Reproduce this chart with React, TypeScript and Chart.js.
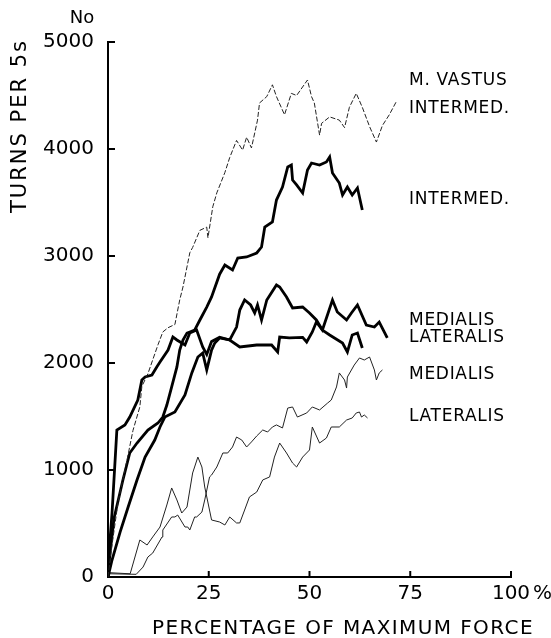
import React, { useEffect, useRef } from "react";
import { Chart, registerables } from "chart.js";

Chart.register(...registerables);

// ---- axis ticks ----
const X_TICKS = [0, 25, 50, 75, 100];
const X_TICK_LABELS = ["0", "25", "50", "75", "100"];
const Y_TICKS = [0, 1000, 2000, 3000, 4000, 5000];
const Y_TICK_LABELS = ["0", "1000", "2000", "3000", "4000", "5000"];

// ---- series: [percentage of max force, turns per 5 s] ----
const vastusIntermedThin: [number, number][] = [
  [0, 0], [1, 300], [2.5, 700], [4.7, 1090], [6.2, 1370], [7.9, 1590], [8.4, 1780], [9.9, 1900],
  [12.4, 2170], [13.6, 2290], [14.9, 2330], [16.6, 2360], [17.8, 2590], [18.6, 2710], [20.3, 3030],
  [21.0, 3080], [22.8, 3240], [24.5, 3270], [24.8, 3170], [26.0, 3460], [27.0, 3590], [29.0, 3780],
  [30.2, 3920], [31.9, 4080], [33.4, 3990], [34.4, 4110], [35.6, 4010], [37.1, 4270], [37.6, 4430],
  [39.4, 4490], [40.8, 4600], [41.8, 4490], [43.8, 4320], [45.5, 4520], [46.8, 4500], [49.5, 4645],
  [50.5, 4490], [51.2, 4430], [52.5, 4130], [53.0, 4240], [55.0, 4300], [57.4, 4270], [58.7, 4200],
  [59.9, 4390], [61.6, 4520], [63.1, 4390], [64.9, 4210], [66.6, 4065], [68.1, 4220], [69.8, 4320],
  [71.5, 4440],
];

const intermedThick: [number, number][] = [
  [0, 0], [0.5, 224], [1.5, 550], [3.7, 907], [5.4, 1159], [7.2, 1252], [9.9, 1374], [12.4, 1439],
  [13.6, 1495], [14.6, 1607], [15.8, 1776], [17.1, 1963], [17.8, 2121], [18.6, 2215], [19.6, 2280],
  [20.3, 2290], [21.5, 2308], [22.8, 2402], [24.5, 2523], [25.7, 2617], [27.7, 2830], [29.0, 2916],
  [30.9, 2869], [32.2, 2981], [34.4, 2991], [36.9, 3028], [38.1, 3084], [38.9, 3271], [40.8, 3318],
  [41.8, 3523], [43.3, 3645], [44.6, 3832], [45.5, 3850], [45.8, 3710], [46.8, 3664], [48.3, 3589],
  [49.5, 3804], [50.5, 3869], [52.5, 3850], [54.2, 3879], [55.0, 3925], [55.7, 3776], [57.4, 3682],
  [58.2, 3570], [59.4, 3645], [60.6, 3570], [61.9, 3636], [63.1, 3430],
];

const medialisThick: [number, number][] = [
  [0, 0], [0.3, 250], [1.0, 598], [2.2, 1374], [4.2, 1421], [5.4, 1495], [7.4, 1654], [8.4, 1841],
  [9.2, 1869], [10.9, 1888], [12.1, 1963], [12.9, 2009], [14.9, 2121], [16.1, 2243], [17.1, 2215],
  [19.1, 2168], [20.3, 2280], [22.0, 2308], [23.5, 2150], [24.5, 2080], [25.7, 2200], [27.7, 2240],
  [30.2, 2215], [32.7, 2150], [36.9, 2168], [40.6, 2168], [42.1, 2103], [42.6, 2243], [45.0, 2234],
  [48.3, 2240], [49.3, 2196], [50.7, 2290], [51.7, 2383], [53.2, 2308], [55.7, 2589], [56.9, 2477],
  [59.2, 2402], [60.4, 2467], [61.9, 2542], [64.1, 2355], [66.1, 2336], [67.3, 2383], [69.3, 2234],
];

const lateralisThick: [number, number][] = [
  [0, 0], [1.0, 159], [3.0, 420], [5.0, 654], [7.2, 907], [9.2, 1121], [11.6, 1280], [12.9, 1402],
  [14.1, 1495], [16.6, 1542], [19.1, 1701], [20.8, 1907], [22.3, 2056], [23.5, 2093], [24.5, 1935],
  [25.7, 2121], [26.5, 2187], [27.7, 2234], [30.2, 2215], [31.9, 2336], [32.7, 2495], [33.9, 2589],
  [35.4, 2542], [36.4, 2467], [37.1, 2542], [38.1, 2402], [39.4, 2589], [41.8, 2729], [42.6, 2710],
  [44.3, 2617], [45.8, 2514], [48.3, 2523], [50.0, 2467], [51.7, 2402], [53.2, 2308], [55.0, 2262],
  [58.2, 2187], [59.4, 2103], [60.6, 2262], [61.9, 2280], [63.1, 2140],
];

const medialisThin: [number, number][] = [
  [0, 0], [0.5, 30], [7, 25], [8.7, 93], [9.9, 187], [11.1, 224], [13.4, 374], [13.6, 439],
  [15.8, 561], [16.6, 561], [17.3, 579], [19.1, 467], [19.8, 467], [20.3, 439], [21.5, 561],
  [22.0, 561], [23.3, 607], [24.0, 720], [25.2, 935], [25.7, 953], [27.0, 1028], [28.5, 1159],
  [29.7, 1159], [30.9, 1215], [31.9, 1308], [33.2, 1280], [34.4, 1215], [35.6, 1262], [36.9, 1318],
  [38.4, 1374], [39.6, 1355], [40.8, 1402], [41.8, 1421], [43.3, 1393], [44.6, 1579], [45.8, 1589],
  [47.0, 1495], [49.3, 1533], [50.7, 1589], [52.5, 1561], [54.5, 1626], [55.4, 1654], [56.7, 1776],
  [57.4, 1907], [58.7, 1841], [59.2, 1766], [59.4, 1869], [61.1, 1981], [62.4, 2047], [63.6, 2028],
  [64.9, 2056], [66.1, 1935], [66.6, 1841], [67.3, 1907], [68.1, 1935],
];

const lateralisThin: [number, number][] = [
  [0, 0], [0.5, 40], [5.5, 30], [7.9, 346], [9.7, 299], [11.1, 374], [12.9, 467], [14.6, 673],
  [15.8, 832], [17.1, 720], [18.3, 598], [19.6, 654], [21.0, 972], [22.3, 1121], [23.3, 1028],
  [24.0, 841], [25.7, 533], [27.7, 514], [29.0, 486], [30.2, 561], [31.9, 505], [32.7, 505],
  [33.9, 626], [35.1, 748], [36.9, 794], [38.4, 907], [40.1, 935], [41.3, 1121], [42.6, 1252],
  [44.3, 1159], [45.8, 1065], [46.8, 1028], [48.3, 1121], [50.0, 1187], [50.7, 1402], [52.5, 1252],
  [54.2, 1299], [55.4, 1402], [57.4, 1402], [59.2, 1467], [60.6, 1486], [61.6, 1533], [62.4, 1542],
  [62.9, 1495], [63.6, 1514], [64.4, 1486],
];

// ---- curve labels (text, anchor in data units) ----
const LABEL_TEXTS = ["M. VASTUS", "INTERMED.", "INTERMED.", "MEDIALIS", "LATERALIS", "MEDIALIS", "LATERALIS"];
const LABEL_PCT = [74.7, 74.7, 74.7, 74.7, 74.7, 74.7, 74.7];
const LABEL_TURNS = [4636, 4374, 3523, 2393, 2234, 1888, 1495];

const FONT = '"DejaVu Sans", sans-serif';

const toPts = (arr: [number, number][]) => arr.map(([x, y]) => ({ x, y }));

const decorations = {
  id: "decorations",
  afterDraw(chart: any) {
    const { ctx } = chart;
    const xs = chart.scales.x;
    const ys = chart.scales.y;
    const area = chart.chartArea;
    ctx.save();
    ctx.strokeStyle = "#000";
    ctx.fillStyle = "#000";
    ctx.lineWidth = 2;
    // inward y ticks
    Y_TICKS.forEach((v) => {
      const py = ys.getPixelForValue(v);
      if (v === 0) return;
      ctx.beginPath();
      ctx.moveTo(area.left, py);
      ctx.lineTo(area.left + 7, py);
      ctx.stroke();
    });
    // inward x ticks
    X_TICKS.forEach((v) => {
      if (v === 0) return;
      const px = xs.getPixelForValue(v);
      ctx.beginPath();
      ctx.moveTo(px, area.bottom);
      ctx.lineTo(px, area.bottom - 6);
      ctx.stroke();
    });
    // "%" after 100
    ctx.font = `20px ${FONT}`;
    ctx.textBaseline = "middle";
    ctx.textAlign = "left";
    const p100 = xs.getPixelForValue(100);
    const w100 = ctx.measureText("100").width;
    ctx.fillText("%", p100 + w100 / 2 + 3, area.bottom + 17);
    // "No"
    ctx.font = `18px ${FONT}`;
    ctx.textAlign = "center";
    ctx.fillText("No", area.left - 26, ys.getPixelForValue(5000) - 24);
    // y title
    ctx.save();
    ctx.translate(21, 126);
    ctx.rotate(-Math.PI / 2);
    ctx.font = `21px ${FONT}`;
    (ctx as any).letterSpacing = "2px";
    ctx.textAlign = "center";
    ctx.fillText("TURNS PER 5s", 0, 0);
    ctx.restore();
    // x title
    ctx.font = `20px ${FONT}`;
    (ctx as any).letterSpacing = "1.4px";
    ctx.textAlign = "center";
    ctx.textBaseline = "alphabetic";
    ctx.fillText("PERCENTAGE OF MAXIMUM FORCE", 343, 634);
    // curve labels
    ctx.font = `17px ${FONT}`;
    (ctx as any).letterSpacing = "0.7px";
    ctx.textAlign = "left";
    ctx.textBaseline = "middle";
    LABEL_TEXTS.forEach((t, i) => {
      ctx.fillText(t, xs.getPixelForValue(LABEL_PCT[i]), ys.getPixelForValue(LABEL_TURNS[i]));
    });
    ctx.restore();
  },
};

export default function App() {
  const ref = useRef<HTMLCanvasElement | null>(null);
  useEffect(() => {
    if (!ref.current) return;
    const thick = { borderColor: "#000", borderWidth: 2.8, pointRadius: 0, tension: 0, fill: false };
    const thin = { borderColor: "#222", borderWidth: 1, pointRadius: 0, tension: 0, fill: false };
    const chart = new Chart(ref.current, {
      type: "line",
      data: {
        datasets: [
          { label: "M. Vastus intermed. (thin)", data: toPts(vastusIntermedThin), ...thin, borderDash: [5, 2] },
          { label: "Intermed.", data: toPts(intermedThick), ...thick },
          { label: "Medialis", data: toPts(medialisThick), ...thick },
          { label: "Lateralis", data: toPts(lateralisThick), ...thick },
          { label: "Medialis (thin)", data: toPts(medialisThin), ...thin },
          { label: "Lateralis (thin)", data: toPts(lateralisThin), ...thin },
        ] as any,
      },
      options: {
        animation: false,
        responsive: false,
        devicePixelRatio: 1,
        layout: { padding: { top: 42, right: 40, left: 0, bottom: 0 } },
        plugins: { legend: { display: false }, tooltip: { enabled: false } },
        scales: {
          x: {
            type: "linear",
            min: 0,
            max: 100,
            grid: { display: false, drawTicks: false },
            border: { display: true, color: "#000", width: 2 },
            afterBuildTicks: (s: any) => {
              s.ticks = X_TICKS.map((v) => ({ value: v }));
            },
            afterFit: (s: any) => {
              s.height = 61;
            },
            ticks: {
              padding: 5,
              color: "#000",
              font: { family: FONT, size: 20 },
              maxRotation: 0,
              callback: (v: any) => X_TICK_LABELS[X_TICKS.indexOf(Number(v))],
            },
          },
          y: {
            type: "linear",
            min: 0,
            max: 5000,
            grid: { display: false, drawTicks: false },
            border: { display: true, color: "#000", width: 2 },
            afterBuildTicks: (s: any) => {
              s.ticks = Y_TICKS.map((v) => ({ value: v }));
            },
            afterFit: (s: any) => {
              s.width = 108;
            },
            ticks: {
              padding: 14,
              color: "#000",
              font: { family: FONT, size: 20 },
              callback: (v: any) => Y_TICK_LABELS[Y_TICKS.indexOf(Number(v))],
            },
          },
        },
      },
      plugins: [decorations],
    });
    return () => chart.destroy();
  }, []);
  return (
    <div style={{ position: "fixed", left: 0, top: 0, width: 551, height: 638, background: "#fff" }}>
      <canvas ref={ref} width={551} height={638} style={{ width: 551, height: 638 }} />
    </div>
  );
}
